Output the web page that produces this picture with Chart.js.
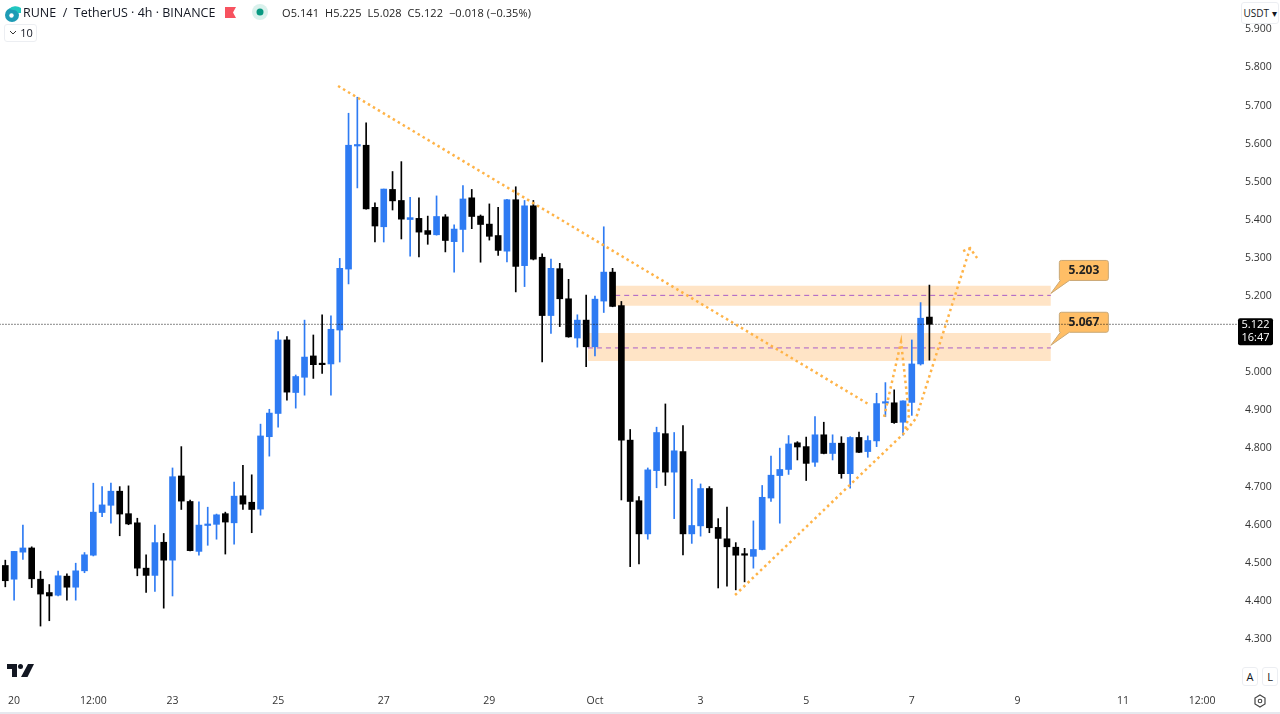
<!DOCTYPE html>
<html><head><meta charset="utf-8">
<script src="https://cdn.jsdelivr.net/npm/chart.js@4"></script>
<style>
html,body{margin:0;padding:0;background:#fff;width:1280px;height:714px;overflow:hidden;font-family:"Open Sans",sans-serif;color:#131722}
#c{position:absolute;left:0;top:0}
.t{position:absolute;white-space:nowrap}
.btn{position:absolute;background:#fff;border:1px solid #eceef2;border-radius:3px;box-sizing:border-box;text-align:center;color:#131722}
svg{position:absolute}
</style></head><body>
<canvas id="c" width="1280" height="714"></canvas>
<svg style="left:3px;top:3px" width="20" height="20" viewBox="0 0 20 20"><circle cx="9" cy="12" r="7" fill="#1e9bb5"/><path d="M6 6 A9 9 0 0 1 18 5 L18 10 L15 10 A5 5 0 0 0 10 7Z" fill="#21c6c0"/><circle cx="8.5" cy="12.5" r="2.2" fill="#fff"/></svg>
<div class="t" style="left:23px;top:4px;font-size:12.5px;line-height:18px">RUNE &nbsp;/&nbsp; TetherUS · 4h · BINANCE</div>
<svg style="left:225px;top:7px" width="11" height="11"><path d="M0 0H11L8 5.5L11 11H0Z" fill="#f7525f"/></svg>
<svg style="left:250px;top:3px" width="20" height="20"><circle cx="10" cy="9" r="8" fill="#d9f1ec"/><circle cx="10" cy="9" r="3.5" fill="#089981"/></svg>
<div class="t" style="left:282px;top:5px;font-size:11px;line-height:16px;letter-spacing:.08px;color:#222">O5.141&nbsp; H5.225&nbsp; L5.028&nbsp; C5.122&nbsp; −0.018 (−0.35%)</div>
<div class="btn" style="left:4px;top:24px;width:33px;height:18px;font-size:11px;line-height:16px;padding-left:12px">10</div>
<svg style="left:9px;top:30px" width="8" height="6"><path d="M1 1L4 4L7 1" fill="none" stroke="#333" stroke-width="1"/></svg>
<div class="btn" style="left:1241px;top:2px;width:38px;height:22px;font-size:10px;line-height:20px">USDT ▾</div>
<svg style="left:7px;top:664px" width="27" height="14" viewBox="0 0 27 14"><path d="M0 0H10V13H5V5H0Z" fill="#131722"/><circle cx="13.5" cy="2.5" r="2.5" fill="#131722"/><path d="M21 0H27L20.5 13H14Z" fill="#131722"/></svg>
<div class="btn" style="left:1242px;top:667px;width:16px;height:19px;font-size:11px;line-height:17px">A</div>
<div class="btn" style="left:1262px;top:667px;width:16px;height:19px;font-size:11px;line-height:17px">L</div>
<svg style="left:1252px;top:693px" width="16" height="16" viewBox="0 0 16 16"><path d="M8 2L13 5V11L8 14L3 11V5Z" fill="none" stroke="#444" stroke-width="1.2"/><circle cx="8" cy="8" r="1.8" fill="none" stroke="#444" stroke-width="1.1"/></svg>
<div style="position:absolute;left:0;top:712px;width:1280px;height:2px;background:#e6e8ee"></div>
<script>
// OHLC, 4h candles, oldest first
const opens=[4.489,4.453,4.524,4.535,4.453,4.418,4.411,4.461,4.432,4.475,4.516,4.628,4.647,4.684,4.625,4.601,4.482,4.463,4.550,4.503,4.724,4.657,4.526,4.594,4.597,4.625,4.601,4.672,4.655,4.637,4.827,4.888,5.081,4.943,4.983,5.039,5.020,5.018,5.107,5.267,5.590,5.592,5.429,5.378,5.476,5.447,5.397,5.400,5.368,5.357,5.404,5.339,5.371,5.454,5.406,5.385,5.355,5.314,5.449,5.276,5.433,5.298,5.145,5.268,5.189,5.086,5.133,5.063,5.183,5.259,5.171,4.818,4.659,4.572,4.738,4.835,4.734,4.788,4.572,4.593,4.691,4.589,4.559,4.537,4.518,4.513,4.531,4.666,4.725,4.741,4.811,4.801,4.760,4.832,4.783,4.810,4.730,4.825,4.788,4.816,4.915,4.916,4.865,4.917,5.018,5.141];
const highs=[4.503,4.526,4.595,4.538,4.474,4.439,4.474,4.467,4.495,4.523,4.705,4.696,4.705,4.696,4.698,4.613,4.517,4.595,4.573,4.745,4.801,4.661,4.656,4.642,4.624,4.629,4.708,4.752,4.727,4.860,4.899,5.103,5.090,4.989,5.133,5.094,5.147,5.144,5.295,5.676,5.718,5.651,5.441,5.477,5.523,5.549,5.455,5.454,5.406,5.459,5.410,5.383,5.486,5.476,5.409,5.438,5.429,5.450,5.483,5.447,5.447,5.307,5.293,5.282,5.240,5.147,5.199,5.196,5.378,5.269,5.182,4.846,4.670,4.745,4.852,4.913,4.838,4.856,4.715,4.703,4.696,4.612,4.642,4.549,4.534,4.606,4.699,4.776,4.797,4.830,4.814,4.826,4.880,4.865,4.832,4.827,4.827,4.839,4.829,4.941,4.969,4.950,4.921,5.081,5.179,5.225];
const lows=[4.433,4.398,4.505,4.431,4.330,4.344,4.409,4.398,4.398,4.470,4.514,4.617,4.600,4.567,4.596,4.462,4.418,4.421,4.377,4.409,4.636,4.527,4.516,4.542,4.558,4.519,4.545,4.636,4.575,4.621,4.776,4.852,4.923,4.902,4.936,4.980,4.993,4.936,5.023,5.228,5.480,5.424,5.338,5.338,5.422,5.346,5.301,5.299,5.332,5.356,5.312,5.259,5.312,5.373,5.285,5.343,5.303,5.286,5.207,5.221,5.291,5.023,5.098,5.116,5.088,5.062,5.011,5.039,5.153,5.168,4.661,4.486,4.493,4.558,4.693,4.699,4.612,4.517,4.547,4.566,4.575,4.430,4.435,4.425,4.446,4.482,4.530,4.657,4.600,4.728,4.766,4.712,4.749,4.782,4.766,4.718,4.692,4.785,4.773,4.801,4.880,4.862,4.831,4.883,5.015,5.028];
const closes=[4.449,4.526,4.535,4.454,4.414,4.409,4.462,4.432,4.475,4.517,4.629,4.648,4.684,4.624,4.598,4.482,4.463,4.549,4.503,4.722,4.658,4.528,4.595,4.596,4.622,4.603,4.671,4.650,4.636,4.829,4.889,5.081,4.944,4.985,5.036,5.016,5.016,5.109,5.269,5.592,5.593,5.425,5.380,5.477,5.446,5.398,5.402,5.364,5.358,5.405,5.342,5.372,5.451,5.405,5.384,5.353,5.316,5.449,5.274,5.433,5.293,5.145,5.269,5.189,5.089,5.133,5.063,5.188,5.259,5.169,4.818,4.657,4.572,4.740,4.838,4.734,4.790,4.572,4.594,4.691,4.588,4.560,4.538,4.516,4.516,4.531,4.668,4.726,4.741,4.808,4.800,4.757,4.832,4.783,4.810,4.730,4.825,4.786,4.817,4.914,4.917,4.864,4.921,5.018,5.138,5.122];

const timeTickIndex=[1,10,19,31,43,55,67,79,91,103,115,127,136];
const timeTickLabels=['20','12:00','23','25','27','29','Oct','3','5','7','9','11','12:00'];
const priceTicks=[4.3,4.4,4.5,4.6,4.7,4.8,4.9,5.0,5.1,5.2,5.3,5.4,5.5,5.6,5.7,5.8,5.9];

const lastPrice=5.122;
const lastCountdown='16:47';
const upperLevel=5.203, lowerLevel=5.067;
const upperZone={from:69.3,to:118.8,top:5.223,bottom:5.171,mid:5.198};
const lowerZone={from:66.2,to:118.8,top:5.099,bottom:5.026,mid:5.060};

const downTrend=[[37.81,5.7475],[98.26,4.910]];
const upTrend=[[82.92,4.4115],[102.24,4.839],[103.49,4.876],[109.62,5.322]];
const upHead=[[108.83,5.314],[109.62,5.322],[110.42,5.296]];
const swing=[[99.85,4.879],[101.78,5.076],[102.69,4.884],[102.24,4.845]];

const UP='#2e7bf3', DOWN='#000000';
const colors=opens.map((o,i)=>closes[i]>=o?UP:DOWN);
const pts=a=>a.map(p=>({x:p[0],y:p[1]}));
const orange=a=>({type:'line',data:pts(a),borderColor:'#ffb347',borderWidth:2.5,borderDash:[2.5,3.3],pointRadius:0,tension:0,order:2,fill:false});
const zoneFill=z=>({type:'line',data:[{x:z.from,y:z.top},{x:z.to,y:z.top}],borderWidth:0,borderColor:'rgba(0,0,0,0)',pointRadius:0,fill:{value:z.bottom},backgroundColor:'rgba(255,190,120,0.42)',order:10});
const zoneMid=z=>({type:'line',data:[{x:z.from,y:z.mid},{x:z.to,y:z.mid}],borderWidth:1,borderColor:'#a85cc8',borderDash:[5,4],pointRadius:0,fill:false,order:9});

const callouts={id:'callouts',beforeDatasetsDraw(ch){
  const {ctx,scales:{x,y}}=ch;
  [[upperLevel],[lowerLevel]].forEach(([v])=>{
    const ax=x.getPixelForValue(upperZone.to), ay=y.getPixelForValue(v);
    const bx=ax+8.5, by=ay-33, w=49, h=20;
    ctx.save();
    ctx.fillStyle='#ffbe66';ctx.strokeStyle='#c9a876';ctx.lineWidth=1;
    ctx.beginPath();
    ctx.moveTo(bx+2,by);ctx.lineTo(bx+w-2,by);ctx.quadraticCurveTo(bx+w,by,bx+w,by+2);
    ctx.lineTo(bx+w,by+h-2);ctx.quadraticCurveTo(bx+w,by+h,bx+w-2,by+h);
    ctx.lineTo(bx+10,by+h);ctx.lineTo(ax,ay);ctx.lineTo(bx+1,by+h);
    ctx.quadraticCurveTo(bx,by+h,bx,by+h-2);ctx.lineTo(bx,by+2);ctx.quadraticCurveTo(bx,by,bx+2,by);
    ctx.closePath();ctx.fill();ctx.stroke();
    ctx.fillStyle='#222';ctx.font='bold 12px "Open Sans"';ctx.textAlign='center';ctx.textBaseline='middle';
    ctx.fillText(v.toFixed(3),bx+w/2,by+h/2);
    ctx.restore();
  });
},afterDraw(ch){
  const {ctx,scales:{y}}=ch, py=y.getPixelForValue(lastPrice);
  ctx.save();
  ctx.fillStyle='#000';
  ctx.beginPath();ctx.roundRect(1238,py-6,35,27,2);ctx.fill();
  ctx.fillStyle='#fff';ctx.font='11px "Open Sans"';ctx.textAlign='center';ctx.textBaseline='middle';
  ctx.fillText(lastPrice.toFixed(3),1255.5,py+1);
  ctx.fillText(lastCountdown,1255.5,py+14);
  ctx.restore();
}};
const noPad=s=>{s.paddingTop=0;s.paddingBottom=0;s.paddingLeft=0;s.paddingRight=0;};

new Chart(document.getElementById('c'),{
  data:{datasets:[
    zoneFill(upperZone),zoneFill(lowerZone),zoneMid(upperZone),zoneMid(lowerZone),
    {type:'bar',grouped:false,data:lows.map((l,i)=>({x:i,y:[l,highs[i]]})),backgroundColor:colors,barThickness:1,order:6},
    {type:'bar',grouped:false,data:opens.map((o,i)=>({x:i,y:[o,closes[i]]})),backgroundColor:colors,barThickness:6,minBarLength:1.5,order:5},
    {type:'line',data:[{x:-1,y:lastPrice},{x:141,y:lastPrice}],borderColor:'#111',borderWidth:1,borderDash:[1,2],pointRadius:0,order:3,fill:false},
    orange(downTrend),orange(upTrend),orange(upHead),orange(swing)
  ]},
  options:{
    responsive:false,animation:false,devicePixelRatio:1,
    layout:{padding:0},
    plugins:{legend:{display:false},tooltip:{enabled:false},title:{display:false}},
    scales:{
      x:{type:'linear',min:-0.602,max:139.95,offset:false,
        grid:{display:false,drawTicks:false},border:{display:false},
        afterFit(s){s.height=28;noPad(s);},
        afterBuildTicks(s){s.ticks=timeTickIndex.map(v=>({value:v}));},
        ticks:{autoSkip:false,maxRotation:0,padding:9,color:'#333',font:{family:'"Open Sans"',size:10.5},
          callback:(v,i)=>timeTickLabels[i]}},
      y:{type:'linear',position:'right',min:4.1727,max:5.9732,
        grid:{display:false,drawTicks:false},border:{display:false},
        afterFit(s){s.width=43;noPad(s);},
        afterBuildTicks(s){s.ticks=priceTicks.map(v=>({value:v}));},
        ticks:{autoSkip:false,padding:8,labelOffset:1.5,color:'#333',font:{family:'"Open Sans"',size:10.5},
          callback:v=>Number(v).toFixed(3)}}
    }
  },
  plugins:[callouts]
});
</script>
</body></html>
